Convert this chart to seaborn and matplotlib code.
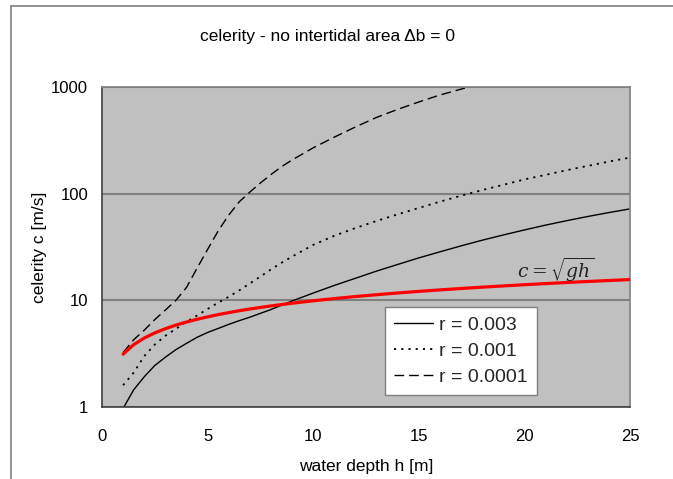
import matplotlib
matplotlib.use("Agg")
import matplotlib.pyplot as plt
import seaborn as sns
import pandas as pd
from matplotlib.lines import Line2D
from matplotlib.ticker import LogLocator, MultipleLocator, NullFormatter

# ---- data ----
h = [1, 1.5, 2, 2.5, 3, 3.5, 4, 4.5, 5, 5.5, 6, 6.5, 7, 7.5, 8, 8.5, 9, 10,
     11, 12, 13, 14, 15, 16, 17, 18, 19, 20, 21, 22, 23, 24, 25]
c_r003 = [0.97, 1.45, 1.92, 2.45, 2.93, 3.45, 3.95, 4.5, 5.0, 5.45, 5.95, 6.45,
          6.95, 7.55, 8.2, 9.0, 9.86, 11.7, 13.8, 16.1, 18.8, 21.7, 25.0,
          28.5, 32.4, 36.6, 41.0, 45.7, 50.7, 55.8, 61.1, 66.5, 72.0]
c_r001 = [1.6, 2.1, 3.0, 3.85, 4.65, 5.4, 6.3, 7.2, 8.3, 9.5, 10.8, 12.4,
          14.4, 16.7, 19.5, 22.5, 25.7, 33.1, 40.3, 47.6, 55.5, 64.0, 73.5,
          84.1, 95.7, 108, 121, 136, 150, 166, 182, 200, 218]
c_r0001 = [3.24, 4.27, 5.25, 6.6, 8.1, 10.0, 13.2, 20.0, 30.0, 44.7, 63.0,
           84.0, 103.5, 126, 151, 179, 207, 269, 339, 422, 519, 617, 724,
           841, 955, 1084, 1216, 1350, 1480, 1620, 1760, 1900, 2050]
c_sqrt_gh = [3.13, 3.84, 4.43, 4.95, 5.42, 5.86, 6.26, 6.64, 7.00, 7.35, 7.67,
             7.99, 8.29, 8.58, 8.86, 9.13, 9.40, 9.90, 10.39, 10.85, 11.29,
             11.72, 12.13, 12.53, 12.91, 13.29, 13.65, 14.01, 14.35, 14.69,
             15.02, 15.34, 15.66]
series_labels = ["r = 0.003", "r = 0.001", "r = 0.0001"]
y_ticks = [1, 10, 100, 1000]
y_tick_labels = ["1", "10", "100", "1000"]
x_ticks = [0, 5, 10, 15, 20, 25]

df = pd.DataFrame({"h": h, "r003": c_r003, "r001": c_r001,
                   "r0001": c_r0001, "sqrtgh": c_sqrt_gh})

sns.set_theme(style="white")
plt.rcParams["font.family"] = ["Liberation Sans", "DejaVu Sans"]
plt.rcParams["mathtext.fontset"] = "dejavuserif"

W, H = 673, 479
fig = plt.figure(figsize=(W / 100, H / 100), dpi=100)
fig.patch.set_facecolor("white")
L, R, T, B = 102, 630, 87, 407
ax = fig.add_axes([L / W, 1 - B / H, (R - L) / W, (B - T) / H])
ax.set_facecolor("#C0C0C0")

sns.lineplot(data=df, x="h", y="r003", ax=ax, color="black", lw=1.0,
             label=series_labels[0])
sns.lineplot(data=df, x="h", y="r001", ax=ax, color="black", lw=1.3,
             linestyle=(0, (1.2, 2.8)), label=series_labels[1])
sns.lineplot(data=df, x="h", y="r0001", ax=ax, color="black", lw=1.0,
             linestyle=(0, (7, 3.5)), label=series_labels[2])
sns.lineplot(data=df, x="h", y="sqrtgh", ax=ax, color="#FF0000", lw=2.3,
             label="_nolegend_", zorder=5)

ax.set_yscale("log")
ax.set_xlim(0, 25)
ax.set_ylim(1, 1000)
ax.set_xticks(x_ticks)
ax.set_xticklabels([str(v) for v in x_ticks])
ax.set_yticks(y_ticks)
ax.set_yticklabels(y_tick_labels)
ax.xaxis.set_minor_locator(MultipleLocator(1))
ax.yaxis.set_minor_locator(LogLocator(base=10, subs=range(2, 10)))
ax.yaxis.set_minor_formatter(NullFormatter())

ax.yaxis.grid(True, which="major", color="#808080", lw=1.5)
ax.xaxis.grid(False)
ax.set_axisbelow(True)

for s in ["left", "bottom"]:
    ax.spines[s].set_color("#404040")
    ax.spines[s].set_linewidth(1.2)
for s in ["top", "right"]:
    ax.spines[s].set_color("#808080")
    ax.spines[s].set_linewidth(1.2)

ax.tick_params(axis="both", which="major", direction="out", length=4,
               width=1, color="#404040", labelsize=12, labelcolor="black")
ax.tick_params(axis="both", which="minor", direction="in", length=3,
               width=1, color="#404040")
ax.tick_params(axis="x", which="major", pad=12)
ax.tick_params(axis="y", which="major", pad=6)

ax.set_xlabel("water depth h [m]", fontsize=12.5, color="black")
ax.set_ylabel("celerity c [m/s]", fontsize=12.5, color="black")
ax.xaxis.label.set_va("center")
ax.yaxis.label.set_va("center")
ax.xaxis.set_label_coords(0.5, (B - 466) / (B - T))
ax.yaxis.set_label_coords((40 - L) / (R - L), 0.5)

handles = ax.lines[:3]
leg = ax.legend(handles=handles, labels=series_labels, loc="lower left",
                bbox_to_anchor=((385 - L) / (R - L), (B - 395) / (B - T)),
                fontsize=14, frameon=True, fancybox=False, shadow=False,
                framealpha=1, facecolor="white", edgecolor="#808080",
                handlelength=2.0, handletextpad=0.35, labelspacing=0.45,
                borderpad=0.45, borderaxespad=0)
leg.get_frame().set_linewidth(1.0)

ax.text((517 - L) / (R - L), (B - 284) / (B - T), r"$c = \sqrt{gh}$",
        transform=ax.transAxes, ha="left", va="bottom", fontsize=13.5,
        color="#222222", zorder=6)

fig.text(327 / W, 1 - 37 / H, "celerity - no intertidal area \u0394b = 0",
         ha="center", va="center", fontsize=12.5, color="black")

# chart-area border (left and top edges visible)
fig.add_artist(Line2D([11 / W, 11 / W], [0, 1 - 6 / H],
                      transform=fig.transFigure, color="#808080", lw=1.2))
fig.add_artist(Line2D([11 / W, 1], [1 - 6 / H, 1 - 6 / H],
                      transform=fig.transFigure, color="#808080", lw=1.2))

fig.savefig("out.png", dpi=100, facecolor="white")
